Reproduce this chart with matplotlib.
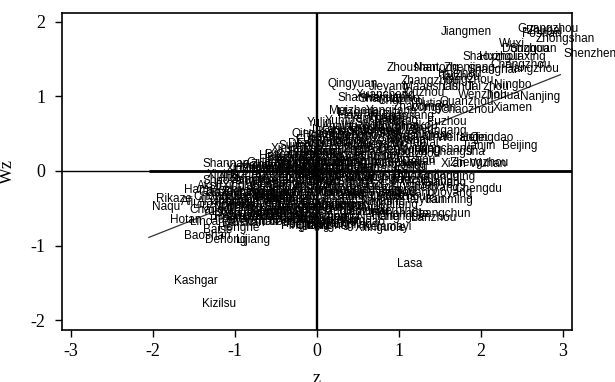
import numpy as np
import matplotlib
matplotlib.use('Agg')
import matplotlib.pyplot as plt

plt.rcParams['axes.unicode_minus'] = False

# Moran scatter: standardised value z vs spatial lag Wz, one label per city
# (name, z, Wz), grouped by quadrant

high_high = [
    ("Jiangmen", 1.47, 1.86), ("Guangzhou", 2.40, 1.90), ("Zhuhai", 2.52, 1.87),
    ("Foshan", 2.46, 1.83), ("Zhongshan", 2.63, 1.76), ("Shenzhen", 2.97, 1.56),
    ("Wuxi", 2.18, 1.70), ("Dongguan", 2.22, 1.63), ("Suzhou", 2.31, 1.63),
    ("Shaoxing", 1.73, 1.53), ("Huzhou", 1.94, 1.53), ("Jiaxing", 2.31, 1.53),
    ("Zhoushan", 0.81, 1.375), ("Nantong", 1.14, 1.38), ("Zhenjiang", 1.50, 1.38),
    ("Changzhou", 2.07, 1.42), ("Shanghai", 1.79, 1.35), ("Hangzhou", 2.25, 1.37),
    ("Huizhou", 1.44, 1.30), ("Taizhou", 1.46, 1.26), ("Yangzhou", 1.48, 1.22),
    ("Zhangzhou", 0.98, 1.21), ("Qingyuan", 0.09, 1.17), ("Jieyang", 0.59, 1.13),
    ("Maanshan", 1.01, 1.12), ("Lishui", 1.50, 1.12), ("Tai'zhou", 1.78, 1.12),
    ("Ningbo", 2.12, 1.15), ("Quzhou", 1.01, 1.05), ("Wenzhou", 1.68, 1.02),
    ("Jinhua", 2.02, 1.00), ("Nanjing", 2.43, 0.99), ("Xiamen", 2.10, 0.84),
    ("Shanwei", 0.21, 0.98), ("Xuancheng", 0.43, 1.02), ("Shantou", 0.47, 0.96),
    ("Heyuan", 0.55, 0.98), ("Wuhu", 0.85, 0.96), ("Chuzhou", 0.70, 0.93),
    ("Quanzhou", 1.45, 0.92), ("Putian", 1.16, 0.90), ("Chaozhou", 1.47, 0.82),
    ("Zhaoqing", 0.88, 0.85), ("Longyan", 1.10, 0.84), ("Meizhou", 0.11, 0.80),
    ("Maoming", 0.20, 0.77), ("Yangjiang", 0.55, 0.80), ("Zhanjiang", 0.76, 0.74),
    ("Ningde", 0.60, 0.72), ("Huai'an", 0.22, 0.73), ("Yancheng", 0.36, 0.70),
    ("Nanping", 0.66, 0.67), ("Sanming", 0.42, 0.64), ("Yunfu", 0.05, 0.67),
    ("Fuzhou", 1.30, 0.65), ("Wuzhou", 0.25, 0.60), ("Anqing", 0.02, 0.59),
    ("Tongling", 0.68, 0.59), ("Chizhou", 0.86, 0.57), ("Huangshan", 0.14, 0.55),
    ("Jiujiang", 0.48, 0.53), ("Lianyungang", 0.96, 0.54), ("Suqian", 1.10, 0.48),
    ("Jinan", 1.28, 0.45), ("Weifang", 1.42, 0.44), ("Hefei", 1.70, 0.44),
    ("Qingdao", 1.82, 0.44), ("Tianjin", 1.73, 0.34), ("Beijing", 2.21, 0.33),
    ("Changsha", 1.35, 0.26), ("Xuzhou", 0.98, 0.23), ("Xi'an", 1.47, 0.09),
    ("Zhengzhou", 1.58, 0.10), ("Wuhan", 1.82, 0.09), ("Nanchang", 1.20, 0.30),
    ("Yantai", 1.05, 0.38), ("Weihai", 0.90, 0.42), ("Zibo", 0.80, 0.36),
    ("Dongying", 0.70, 0.30), ("Rizhao", 0.55, 0.44), ("Jining", 0.60, 0.20),
    ("Tai'an", 0.40, 0.26), ("Linyi", 0.30, 0.40), ("Bengbu", 0.20, 0.47),
    ("Huainan", 0.10, 0.33), ("Ganzhou", 0.05, 0.45), ("Shangrao", 0.35, 0.52),
    ("Jingdezhen", 0.25, 0.28), ("Yingtan", 0.50, 0.12), ("Xinyu", 0.15, 0.15),
    ("Pingxiang", 0.65, 0.08), ("Zhuzhou", 0.85, 0.15), ("Xiangtan", 0.75, 0.25),
    ("Yueyang", 0.45, 0.35), ("Changde", 0.30, 0.18), ("Ezhou", 0.90, 0.05),
    ("Huangshi", 0.55, 0.03), ("Xiaogan", 0.20, 0.05), ("Jingzhou", 0.08, 0.22),
    ("Yichang", 0.95, 0.28), ("Xiangyang", 0.62, 0.40), ("Shijiazhuang", 0.40, 0.10),
    ("Tangshan", 0.78, 0.47), ("Langfang", 0.35, 0.58), ("Haikou", 0.98, 0.60),
    ("Sanya", 0.70, 0.50), ("Guilin", 0.15, 0.38), ("Liuzhou", 0.50, 0.20),
    ("Dalian", 1.00, 0.12), ("Xuchang", 0.00, 0.10), ("Jiyuan", 0.15, 0.00),
]

low_high = [
    ("Yulin", -0.17, 0.64), ("Huanggang", -0.21, 0.48), ("Suining", -0.51, 0.335),
    ("Baoding", -0.68, 0.21), ("Bozhou", -0.65, 0.17), ("Shannan", -1.44, 0.094),
    ("Lu'an", -0.10, 0.55), ("Fuyang", -0.30, 0.42), ("Huaibei", -0.12, 0.40),
    ("Ji'an", -0.25, 0.30), ("Chenzhou", -0.05, 0.30), ("Hengyang", -0.40, 0.25),
    ("Yiyang", -0.15, 0.20), ("Loudi", -0.35, 0.15), ("Yongzhou", -0.55, 0.12),
    ("Xianning", -0.20, 0.10), ("Jingmen", -0.45, 0.05), ("Suizhou", -0.70, 0.05),
    ("Xinyang", -0.60, 0.30), ("Zhoukou", -0.85, 0.08), ("Zhumadian", -0.95, 0.03),
    ("Shangqiu", -0.30, 0.05), ("Heze", -0.75, 0.15), ("Liaocheng", -0.10, 0.12),
    ("Dezhou", -0.40, 0.36), ("Binzhou", -0.08, 0.25), ("Zaozhuang", -0.25, 0.18),
    ("Cangzhou", -0.55, 0.22), ("Hengshui", -1.05, 0.04), ("Xingtai", -1.15, 0.02),
    ("Handan", -0.50, 0.02), ("Guigang", -0.90, 0.10), ("Hezhou", -0.15, 0.46),
    ("Qinzhou", -0.35, 0.50), ("Beihai", -0.05, 0.52), ("Fangchenggang", -0.28, 0.36),
    ("Laibin", -0.65, 0.10), ("Xiangxi", -1.00, 0.06), ("Qinhuangdao", -0.20, 0.05),
    ("Suihua", -0.55, 0.08), ("Hebi", -0.75, 0.20), ("Puyang", -0.30, 0.25),
    ("Luohe", -0.50, 0.18), ("Zhangjiajie", -0.40, 0.10), ("Nanyang", -0.05, 0.02),
]

low_low = [
    ("Xining", -1.39, -0.05), ("Shaoyang", -1.44, -0.13), ("Hami", -1.66, -0.25),
    ("Ganzi", -1.49, -0.30), ("Rikaze", -2.00, -0.375), ("Naqu", -2.05, -0.48),
    ("Ali", -1.70, -0.42), ("Linzhi", -1.55, -0.45), ("Changdu", -1.60, -0.52),
    ("Guoluo", -1.35, -0.40), ("Yushu", -1.45, -0.55), ("Hotan", -1.84, -0.66),
    ("Lincang", -1.59, -0.69), ("Pu'er", -1.35, -0.66), ("Baise", -1.43, -0.79),
    ("Honghe", -1.25, -0.76), ("Baoshan", -1.66, -0.87), ("Dehong", -1.41, -0.92),
    ("Lijiang", -1.03, -0.92), ("Kashgar", -1.78, -1.47), ("Kizilsu", -1.45, -1.78),
    ("Wenshan", -1.10, -0.68), ("Bazhong", -0.80, -0.62), ("Pingliang", -0.48, -0.74),
    ("Tongren", -0.45, -0.71), ("Gannan", -0.60, -0.66), ("Dingxi", -0.30, -0.72),
    ("Longnan", -0.15, -0.74), ("Aksu", -1.50, -0.20), ("Ili", -1.30, -0.18),
    ("Tacheng", -1.20, -0.28), ("Altay", -1.25, -0.10), ("Bortala", -1.10, -0.05),
    ("Bayingolin", -1.05, -0.35), ("Turpan", -0.95, -0.15), ("Changji", -0.85, -0.25),
    ("Haixi", -1.15, -0.47), ("Huangnan", -1.00, -0.55), ("Haibei", -0.90, -0.44),
    ("Hainan", -0.80, -0.38), ("Haidong", -0.70, -0.30), ("Linxia", -0.95, -0.62),
    ("Aba", -1.20, -0.60), ("Liangshan", -1.05, -0.50), ("Nujiang", -1.30, -0.50),
    ("Diqing", -1.15, -0.40), ("Xishuangbanna", -1.25, -0.58), ("Chuxiong", -0.90, -0.68),
    ("Dali", -0.75, -0.55), ("Zhaotong", -0.60, -0.48), ("Qujing", -0.45, -0.60),
    ("Yuxi", -0.35, -0.52), ("Bijie", -0.55, -0.36), ("Anshun", -0.40, -0.42),
    ("Liupanshui", -0.25, -0.35), ("Qianxinan", -0.65, -0.20), ("Qiannan", -0.30, -0.15),
    ("Zunyi", -0.15, -0.25), ("Guyuan", -0.85, -0.10), ("Zhongwei", -0.60, -0.08),
    ("Wuzhong", -0.40, -0.05), ("Shizuishan", -0.20, -0.08), ("Jiuquan", -1.00, -0.22),
    ("Zhangye", -0.75, -0.18), ("Wuwei", -0.50, -0.25), ("Tianshui", -0.35, -0.30),
    ("Baiyin", -0.10, -0.40), ("Jinchang", -0.70, -0.40), ("Jiayuguan", -0.95, -0.30),
    ("Qingyang", -0.20, -0.50), ("Ankang", -0.50, -0.58), ("Hanzhong", -0.25, -0.62),
    ("Shangluo", -0.10, -0.55), ("Yan'an", -0.05, -0.18), ("Weinan", -0.30, -0.05),
    ("Baoji", -0.15, -0.12), ("Tongchuan", -0.45, -0.12), ("Xianyang", -0.05, -0.30),
    ("Ya'an", -1.15, -0.64), ("Guang'an", -0.60, -0.62), ("Dazhou", -0.35, -0.66),
    ("Nanchong", -0.05, -0.45), ("Panzhihua", -0.55, -0.68), ("Guangyuan", -0.20, -0.67),
    ("Ziyang", -0.75, -0.60), ("Hegang", -0.15, -0.71), ("Qitaihe", -0.30, -0.74),
    ("Chifeng", -0.05, -0.65), ("Yangquan", -0.55, -0.10), ("Changzhi", -0.80, -0.05),
    ("Jincheng", -0.35, -0.22), ("Shuozhou", -1.00, -0.40), ("Jinzhong", -0.65, -0.30),
    ("Yuncheng", -0.90, -0.18), ("Xinzhou", -1.10, -0.30), ("Linfen", -0.45, -0.32),
    ("Lvliang", -1.25, -0.45), ("Hulunbeier", -0.60, -0.52), ("Bayannaoer", -0.90, -0.52),
    ("Wulanchabu", -1.30, -0.35), ("Fuxin", -0.10, -0.20), ("Chaoyang", -0.25, -0.45),
    ("Liaoyuan", -0.40, -0.01), ("Tonghua", -0.70, -0.01), ("Baishan", -1.20, -0.70),
    ("Songyuan", -0.20, -0.30), ("Baicheng", -0.50, -0.45), ("Yanbian", -0.85, -0.35),
    ("Jixi", -0.95, -0.45), ("Shuangyashan", -0.70, -0.48), ("Yichun", -0.10, -0.62),
    ("Heihe", -1.05, -0.60), ("Daxinganling", -1.40, -0.30), ("Sanmenxia", -1.10, -0.12),
    ("Enshi", -0.85, -0.02), ("Huaihua", -1.30, -0.62), ("Hechi", -1.35, -0.25),
    ("Chongzuo", -1.55, -0.35), ("Alashan", -1.50, -0.42), ("Xing'an", -1.20, -0.20),
    ("Xiantao", -0.10, -0.05), ("Tianmen", -0.65, -0.38), ("Kuerle", -0.25, -0.01),
]

high_low = [
    ("Daqing", 0.38, -0.49), ("Nanning", 0.50, -0.42), ("Haerbin", 0.61, -0.53),
    ("Lanzhou", 1.11, -0.63), ("Changchun", 1.10, -0.58), ("Taiyuan", 1.03, -0.39),
    ("Kunming", 1.29, -0.39), ("Guiyang", 1.24, -0.16), ("Chengdu", 1.63, -0.24),
    ("Shenyang", 1.05, -0.23), ("Luoyang", 1.30, -0.29), ("Mudanjiang", 0.95, -0.05),
    ("Xilinguole", 0.42, -0.76), ("Kelamayi", 0.52, -0.75), ("Lasa", 0.93, -1.24),
    ("Yinchuan", 0.85, -0.20), ("Huhehaote", 0.62, -0.58), ("Baotou", 0.70, -0.30),
    ("Ordos", 0.55, -0.22), ("Jilin", 0.30, -0.35), ("Anshan", 0.05, -0.48),
    ("Datong", 0.45, -0.10), ("Qiqihar", 0.10, -0.45), ("Jiamusi", 0.25, -0.55),
    ("Fushun", 0.05, -0.30), ("Benxi", 0.35, -0.20), ("Panjin", 0.60, -0.12),
    ("Yingkou", 0.15, -0.05), ("Dandong", 0.75, -0.08), ("Jinzhou", 0.80, -0.35),
    ("Liaoyang", 0.40, -0.30), ("Tieling", 0.05, -0.62), ("Huludao", 0.25, -0.68),
    ("Tongliao", 0.10, -0.72), ("Siping", 0.20, -0.15), ("Xinxiang", 0.55, -0.05),
    ("Jiaozuo", 0.85, -0.12), ("Anyang", 0.30, -0.08), ("Kaifeng", 0.70, -0.45),
    ("Pingdingshan", 0.10, -0.25), ("Shiyan", 0.45, -0.40), ("Zigong", 0.75, -0.25),
    ("Mianyang", 1.00, -0.15), ("Deyang", 0.90, -0.30), ("Leshan", 0.60, -0.35),
    ("Luzhou", 0.35, -0.55), ("Yibin", 0.15, -0.40), ("Neijiang", 0.45, -0.62),
    ("Chongqing", 1.20, -0.08), ("Zhangjiakou", 0.25, -0.32), ("Chengde", 0.70, -0.62),
    ("Wuhai", 0.20, -0.25), ("Meishan", 0.10, -0.10), ("Shihezi", 0.30, -0.18),
]

moran_slope = 0.434

cities = high_high + low_high + low_low + high_low
names = [c[0] for c in cities]
z = np.array([c[1] for c in cities])
wz = np.array([c[2] for c in cities])

fig = plt.figure(figsize=(6.15, 3.82), dpi=100)
ax = fig.add_axes([0.1008, 0.136, 0.829, 0.831])

for n, x, y in zip(names, z, wz):
    ax.annotate(n, (x, y), xytext=(2.5, 0), textcoords='offset points',
                ha='left', va='center', fontsize=8.5, family='Liberation Sans',
                color='black')

xl = np.array([z.min(), z.max()])
ax.plot(xl, moran_slope * xl, color='#333333', lw=0.9)

ax.set_xlim(-3.11, 3.11)
ax.set_ylim(-2.13, 2.12)
ax.axhline(0, color='black', lw=1.0)
ax.hlines(0, z.min(), 3.11, color='black', lw=2.0)
ax.axvline(0, color='black', lw=1.7)

ax.set_xticks([-3, -2, -1, 0, 1, 2, 3])
ax.set_yticks([-2, -1, 0, 1, 2])
ax.tick_params(direction='out', length=5, width=1, labelsize=13, pad=4)
ax.tick_params(axis='y', pad=7)
for lab in ax.get_xticklabels() + ax.get_yticklabels():
    lab.set_family('Liberation Serif')
for s in ax.spines.values():
    s.set_linewidth(1.2)

ax.set_xlabel('z', family='Liberation Serif', fontsize=13)
ax.set_ylabel('Wz', family='Liberation Serif', fontsize=13)
ax.xaxis.set_label_coords(0.5, -0.125)
ax.yaxis.set_label_coords(-0.09, 0.5)

fig.savefig('out.png', dpi=100)
